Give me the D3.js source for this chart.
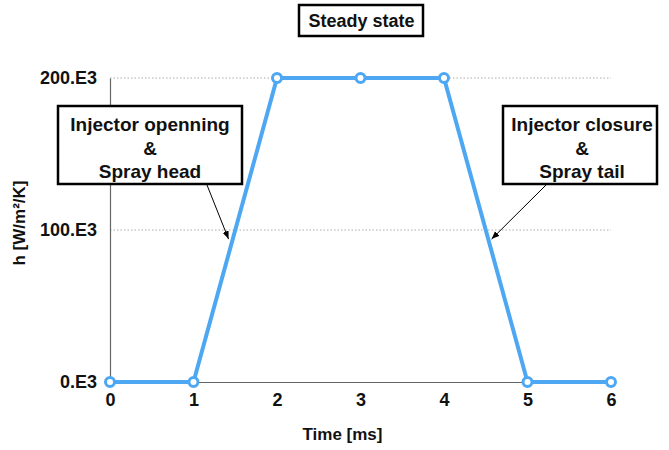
<!DOCTYPE html>
<html>
<head>
<meta charset="utf-8">
<script src="https://cdn.jsdelivr.net/npm/d3@7"></script>
<style>
  body { margin: 0; background: #fff; }
  text { font-family: "Liberation Sans", Arial, sans-serif; font-weight: bold; fill: #111; }
</style>
</head>
<body>
<div id="chart"></div>
<script>
// time in ms, h in thousands of W/m2/K
const times = [0, 1, 2, 3, 4, 5, 6]
const hValues = [0, 0, 200, 200, 200, 0, 0]
const yTicks = [0, 100, 200]
const notes = [
  { lines: ["Injector openning", "&", "Spray head"], at: [1.42, 94] },
  { lines: ["Injector closure", "&", "Spray tail"], at: [4.57, 94] }
]

const W = 669, H = 450
const margin = { top: 78, right: 58, bottom: 68, left: 110 },
  w = W - margin.left - margin.right,
  h = H - margin.top - margin.bottom;

const svg = d3.select("#chart")
  .append("svg")
  .attr("width", W)
  .attr("height", H)
const g = svg.append("g")
  .attr("transform", `translate(${margin.left}, ${margin.top})`);

const x = d3.scaleLinear().domain([0, 6]).range([0, w])
const y = d3.scaleLinear().domain([0, 200]).range([h, 0])

// dotted grid
g.selectAll(".grid")
  .data(yTicks.filter(d => d > 0))
  .join("line")
  .attr("x1", 0).attr("x2", w)
  .attr("y1", d => y(d)).attr("y2", d => y(d))
  .attr("stroke", "#aaa")
  .attr("stroke-dasharray", "1.5,2")

// axes
const xAxis = g.append("g")
  .attr("transform", `translate(0, ${h})`)
  .call(d3.axisBottom(x).tickValues(times).tickSize(0).tickPadding(10).tickFormat(d3.format("d")))
const yAxis = g.append("g")
  .call(d3.axisLeft(y).tickValues(yTicks).tickSize(0).tickPadding(13).tickFormat(d => d + ".E3"))
;[xAxis, yAxis].forEach(a => {
  a.attr("font-size", null).attr("font-family", null)
  a.select(".domain").attr("stroke", "#666").attr("stroke-width", 1.2)
  a.selectAll("text").style("font-size", "18px").style("font-weight", "bold").attr("fill", "#111")
})
xAxis.selectAll("text").attr("dy", "0.8em")

// series
const pts = times.map((t, i) => [t, hValues[i]])
g.append("path")
  .datum(pts)
  .attr("fill", "none")
  .attr("stroke", "#4ea7f3")
  .attr("stroke-width", 4)
  .attr("stroke-linejoin", "round")
  .attr("d", d3.line().x(d => x(d[0])).y(d => y(d[1])))
g.selectAll(".pt")
  .data(pts)
  .join("circle")
  .attr("cx", d => x(d[0]))
  .attr("cy", d => y(d[1]))
  .attr("r", 4.5)
  .attr("fill", "#fff")
  .attr("stroke", "#4ea7f3")
  .attr("stroke-width", 3)

// axis titles
svg.append("text")
  .attr("x", margin.left + w / 2 - 18)
  .attr("y", 440)
  .attr("text-anchor", "middle")
  .style("font-size", "17px")
  .text("Time [ms]")
svg.append("text")
  .attr("transform", `translate(25, 223) rotate(-90)`)
  .attr("text-anchor", "middle")
  .style("font-size", "17px")
  .text("h [W/m²/K]")

// title box
svg.append("rect")
  .attr("x", 299).attr("y", 5).attr("width", 124).attr("height", 31)
  .attr("fill", "#fff").attr("stroke", "#000").attr("stroke-width", 2.5)
svg.append("text")
  .attr("x", 361.5).attr("y", 27)
  .attr("text-anchor", "middle")
  .style("font-size", "18px")
  .text("Steady state")

// annotations
svg.append("defs").append("marker")
  .attr("id", "arr")
  .attr("viewBox", "0 0 10 10")
  .attr("refX", 10).attr("refY", 5)
  .attr("markerWidth", 8).attr("markerHeight", 8)
  .attr("orient", "auto")
  .append("path").attr("d", "M0,1 L10,5 L0,9 Z").attr("fill", "#000")

const boxes = [
  { x: 58, y: 106, w: 184, h: 78, from: [207, 185] },
  { x: 503, y: 106, w: 154, h: 78, from: [546, 185] }
]
notes.forEach((n, i) => {
  const b = boxes[i]
  svg.append("line")
    .attr("x1", b.from[0]).attr("y1", b.from[1])
    .attr("x2", margin.left + x(n.at[0])).attr("y2", margin.top + y(n.at[1]))
    .attr("stroke", "#000").attr("stroke-width", 1)
    .attr("marker-end", "url(#arr)")
  svg.append("rect")
    .attr("x", b.x).attr("y", b.y).attr("width", b.w).attr("height", b.h)
    .attr("fill", "#fff").attr("stroke", "#000").attr("stroke-width", 2.5)
  n.lines.forEach((t, j) => {
    svg.append("text")
      .attr("x", b.x + b.w / 2 + (i ? 2 : 0))
      .attr("y", b.y + 25 + j * 23.5)
      .attr("text-anchor", "middle")
      .style("font-size", "19px")
      .text(t)
  })
})
</script>
</body>
</html>
